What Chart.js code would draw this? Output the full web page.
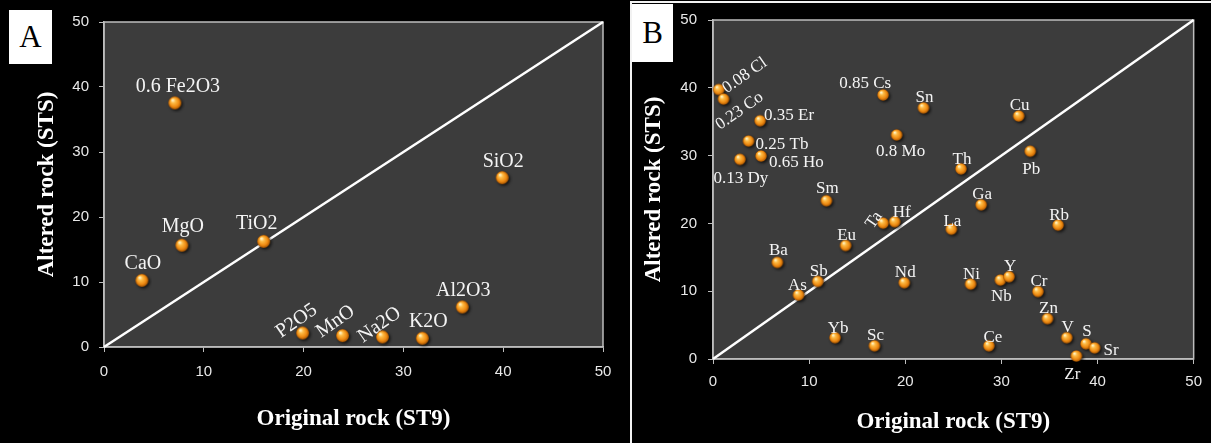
<!DOCTYPE html>
<html>
<head>
<meta charset="utf-8">
<script src="https://cdn.jsdelivr.net/npm/chart.js@4"></script>
<style>
  html, body { margin: 0; padding: 0; background: #000; }
  #wrap { position: relative; width: 1211px; height: 443px; overflow: hidden; background: #000; }
  #chartA { position: absolute; left: 0; top: 0; }
  #chartB { position: absolute; left: 632px; top: 0; }
  #frameB { position: absolute; left: 630px; top: 1px; width: 600px; height: 460px;
            border-left: 2px solid #f2f2f2; border-top: 2px solid #f2f2f2; }
  .tag { position: absolute; background: #fff; color: #000; font-family: 'Liberation Serif', serif;
         font-size: 31px; text-align: center; }
  #tagA { left: 9px; top: 10px; width: 43px; height: 54px; line-height: 54px; }
  #tagB { left: 632px; top: 4px; width: 41px; height: 58px; line-height: 58px; }
</style>
</head>
<body>
<div id="wrap">
  <canvas id="chartA" width="630" height="443"></canvas>
  <div id="frameB"></div>
  <canvas id="chartB" width="579" height="443"></canvas>
  <div class="tag" id="tagA">A</div>
  <div class="tag" id="tagB">B</div>
</div>
<script>
// ---- data: panel A (major oxides) ----
const oxideLabels   = ['0.6 Fe2O3', 'CaO', 'MgO', 'TiO2', 'SiO2', 'Al2O3', 'P2O5', 'MnO', 'Na2O', 'K2O'];
const oxideOriginal = [7.2, 3.9, 7.9, 16.1, 40.0, 36.0, 20.0, 24.0, 28.0, 32.0];
const oxideAltered  = [37.4, 10.1, 15.5, 16.1, 25.9, 6.0, 2.0, 1.6, 1.4, 1.2];

// ---- data: panel B (trace elements) ----
const traceLabels = ['0.08 Cl', '0.23 Co', '0.35 Er', '0.25 Tb', '0.65 Ho', '0.13 Dy', '0.85 Cs', 'Sn', '0.8 Mo',
  'Cu', 'Pb', 'Th', 'Sm', 'Ga', 'Ta', 'Hf', 'La', 'Rb', 'Eu', 'Ba', 'Sb', 'As', 'Nd', 'Ni', 'Nb', 'Y',
  'Cr', 'Zn', 'V', 'S', 'Sr', 'Zr', 'Yb', 'Sc', 'Ce'];
const traceOriginal = [0.7, 1.2, 5.0, 3.8, 5.1, 2.9, 17.8, 22.0, 19.2,
  31.9, 33.1, 25.9, 11.9, 28.0, 17.8, 19.0, 24.9, 36.0, 13.9, 6.8, 11.0, 9.0, 20.0, 26.9, 30.0, 30.9,
  33.9, 34.9, 36.9, 38.9, 39.8, 37.9, 12.8, 16.9, 28.8];
const traceAltered = [39.6, 38.2, 35.0, 32.0, 29.8, 29.3, 38.8, 36.9, 32.9,
  35.7, 30.5, 27.9, 23.2, 22.6, 19.9, 20.1, 19.0, 19.6, 16.6, 14.1, 11.3, 9.3, 11.1, 10.9, 11.5, 12.0,
  9.8, 5.8, 3.0, 2.1, 1.5, 0.3, 3.0, 1.8, 1.8];

// 1:1 reference line
const lineX = [0, 50];
const lineY = [0, 50];

const axisTicks = [0, 10, 20, 30, 40, 50];

// label placement (offsets from the point, px)
const placeA = {
  '0.6 Fe2O3': { dx: 2, dy: -17 },
  'CaO': { dy: -18 }, 'MgO': { dy: -20 }, 'TiO2': { dx: -8, dy: -19 },
  'K2O': { dx: 5 },
  'P2O5': { dx: -7, dy: -13, rot: -35 }, 'MnO': { dx: -8, dy: -15, rot: -35 }, 'Na2O': { dx: -4, dy: -13, rot: -35 }
};
const placeB = {
  '0.08 Cl': { dx: 25, dy: -15, rot: -35 }, '0.23 Co': { dx: 15, dy: 11, rot: -35 },
  '0.35 Er': { dx: 3, dy: -6, align: 'left' }, '0.25 Tb': { dx: 6, dy: 2, align: 'left' },
  '0.65 Ho': { dx: 7, dy: 6, align: 'left' }, '0.13 Dy': { dy: 18 },
  '0.85 Cs': { dx: -19, dy: -12 }, '0.8 Mo': { dx: 3, dy: 16 }, 'Pb': { dy: 17 },
  'Th': { dy: -10 }, 'Sm': { dy: -13 }, 'Ta': { dx: -10, dy: -4, rot: -55 }, 'Hf': { dx: 6, dy: -10 },
  'La': { dy: -9 }, 'Ba': { dy: -13 }, 'As': { dx: -2, dy: -10 }, 'Nb': { dy: 16 },
  'Zr': { dx: -5, dy: 18 }, 'Sr': { dx: 8, dy: 2, align: 'left' }, 'Ce': { dx: 3, dy: -9 },
  'S': { dy: -13 }, 'Yb': { dx: 2, dy: -10 }
};

// orange shaded ball used as point style
function makeBall(r) {
  const size = Math.ceil(r * 2 + 6);
  const c = document.createElement('canvas');
  c.width = size; c.height = size;
  const g = c.getContext('2d');
  const cx = size / 2 - 1, cy = size / 2 - 1;
  g.save();
  g.shadowColor = 'rgba(0,0,0,0.7)';
  g.shadowBlur = 3;
  g.shadowOffsetX = 1.5;
  g.shadowOffsetY = 1.5;
  const grad = g.createRadialGradient(cx - r * 0.35, cy - r * 0.45, r * 0.1, cx, cy, r);
  grad.addColorStop(0, '#fff1c2');
  grad.addColorStop(0.28, '#fdbb45');
  grad.addColorStop(0.7, '#ee8a12');
  grad.addColorStop(1, '#a45200');
  g.fillStyle = grad;
  g.beginPath();
  g.arc(cx, cy, r, 0, Math.PI * 2);
  g.fill();
  g.restore();
  return c;
}

const plotFrame = {
  id: 'plotFrame',
  beforeDraw(chart) {
    const { ctx, chartArea: a } = chart;
    ctx.save();
    ctx.fillStyle = '#3c3c3c';
    ctx.fillRect(a.left, a.top, a.right - a.left, a.bottom - a.top);
    ctx.restore();
  },
  beforeDatasetsDraw(chart) {
    const { ctx, chartArea: a } = chart;
    ctx.save();
    ctx.strokeStyle = '#bdbdbd';
    ctx.lineWidth = 1.5;
    ctx.strokeRect(a.left, a.top, a.right - a.left, a.bottom - a.top);
    ctx.restore();
  }
};

const pointLabels = {
  id: 'pointLabels',
  afterDatasetsDraw(chart, args, opts) {
    const { ctx } = chart;
    const meta = chart.getDatasetMeta(0);
    const labels = chart.data.datasets[0].labels;
    ctx.save();
    ctx.font = opts.size + 'px "Liberation Serif", serif';
    ctx.fillStyle = '#f4f4f4';
    ctx.textBaseline = 'middle';
    meta.data.forEach((pt, i) => {
      const p = Object.assign({ dx: 0, dy: opts.dy, align: 'center', rot: 0 }, opts.place[labels[i]] || {});
      ctx.save();
      ctx.translate(pt.x + p.dx, pt.y + p.dy);
      ctx.rotate(p.rot * Math.PI / 180);
      ctx.textAlign = p.align;
      ctx.fillText(labels[i], 0, 0);
      ctx.restore();
    });
    ctx.restore();
  }
};

function makeChart(id, xs, ys, labels, cfg) {
  const pts = xs.map((x, i) => ({ x: x, y: ys[i] }));
  const diag = lineX.map((x, i) => ({ x: x, y: lineY[i] }));
  const tickFont = { family: '"Liberation Sans", sans-serif', size: 15 };
  const titleFont = { family: '"Liberation Serif", serif', weight: 'bold' };
  const grid = { display: true, drawOnChartArea: false, drawTicks: true, tickLength: 5, color: '#bdbdbd' };
  return new Chart(document.getElementById(id), {
    type: 'scatter',
    data: {
      datasets: [{
        data: pts,
        labels: labels,
        pointStyle: makeBall(cfg.r),
        pointRadius: cfg.r,
        pointHoverRadius: cfg.r,
        clip: false
      }, {
        data: diag,
        showLine: true,
        borderColor: '#ffffff',
        borderWidth: 2.5,
        pointRadius: 0,
        clip: false
      }]
    },
    options: {
      responsive: false,
      animation: false,
      events: [],
      layout: { padding: { top: cfg.top, right: cfg.right, left: 0, bottom: 0 } },
      plugins: {
        legend: { display: false },
        tooltip: { enabled: false },
        pointLabels: { size: cfg.labelSize, dy: cfg.labelDy, place: cfg.place }
      },
      scales: {
        x: {
          type: 'linear', min: 0, max: 50,
          afterBuildTicks: s => { s.ticks = axisTicks.map(v => ({ value: v })); },
          afterFit: s => { s.height = cfg.xHeight; },
          grid: grid,
          border: { display: true, color: '#bdbdbd', width: 1.5 },
          ticks: { color: '#e8e8e8', font: tickFont, padding: cfg.xPad, maxRotation: 0 },
          title: { display: true, text: 'Original rock (ST9)', color: '#ffffff',
                   font: Object.assign({ size: 23 }, titleFont), padding: { top: 0, bottom: cfg.xTitlePad } }
        },
        y: {
          type: 'linear', min: 0, max: 50,
          afterBuildTicks: s => { s.ticks = axisTicks.map(v => ({ value: v })); },
          afterFit: s => { s.width = cfg.yWidth; },
          grid: grid,
          border: { display: true, color: '#bdbdbd', width: 1.5 },
          ticks: { color: '#e8e8e8', font: tickFont, padding: cfg.yPad },
          title: { display: true, text: 'Altered rock (STS)', color: '#ffffff',
                   font: Object.assign({ size: cfg.yTitleSize }, titleFont), padding: { top: cfg.yTitlePad, bottom: 0 } }
        }
      }
    },
    plugins: [plotFrame, pointLabels]
  });
}

makeChart('chartA', oxideOriginal, oxideAltered, oxideLabels, {
  r: 6.5, top: 22, right: 27, yWidth: 104, xHeight: 96, xPad: 11, yPad: 10,
  xTitlePad: 10, yTitlePad: 33, yTitleSize: 23, labelSize: 20, labelDy: -17, place: placeA
});
makeChart('chartB', traceOriginal, traceAltered, traceLabels, {
  r: 5.8, top: 20, right: 16, yWidth: 81, xHeight: 84, xPad: 9, yPad: 11,
  xTitlePad: 7, yTitlePad: 8, yTitleSize: 23, labelSize: 17, labelDy: -11, place: placeB
});
</script>
</body>
</html>
